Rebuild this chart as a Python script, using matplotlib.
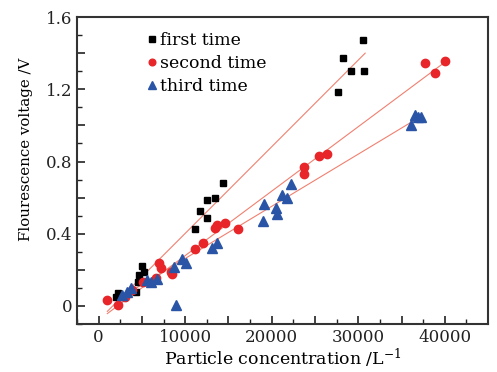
import matplotlib
matplotlib.use("Agg")
import matplotlib.pyplot as plt
import numpy as np
from matplotlib.ticker import MultipleLocator, FuncFormatter

# first time (black squares)
first_x = [30575, 28276, 29195, 30690, 27701, 14368, 13448, 12529, 11724, 12529, 11149,
           5057, 5287, 4713, 4598, 4368, 2184, 2414, 1954]
first_y = [1.472, 1.372, 1.30, 1.30, 1.183, 0.683, 0.60, 0.589, 0.528, 0.489, 0.428,
           0.222, 0.189, 0.172, 0.133, 0.078, 0.072, 0.05, 0.05]

# second time (red circles)
second_x = [37700, 40000, 38900, 25500, 26400, 23700, 23700, 14600, 13700, 13400, 16100,
            11100, 12000, 7020, 7250, 8400, 8500, 6600, 3900, 5100, 920, 2200, 3000]
second_y = [1.344, 1.356, 1.289, 0.833, 0.844, 0.772, 0.733, 0.461, 0.45, 0.433, 0.428,
            0.317, 0.35, 0.239, 0.211, 0.189, 0.178, 0.156, 0.089, 0.133, 0.033, 0.006, 0.05]

# third time (blue triangles)
third_x = [36552, 37241, 36092, 36900, 22184, 21149, 21724, 19080, 20460, 20575, 18965,
           13678, 13103, 10115, 9655, 8736, 6782, 6092, 5632, 3793, 3218, 2644, 8966]
third_y = [1.056, 1.044, 1.0, 1.044, 0.678, 0.617, 0.60, 0.567, 0.544, 0.511, 0.472,
           0.35, 0.322, 0.239, 0.261, 0.217, 0.15, 0.133, 0.144, 0.10, 0.078, 0.061, 0.006]

# fitted lines: (slope, intercept, x_start, x_end)
fit_slopes = [4.8e-5, 3.57e-5, 2.89e-5]
fit_intercepts = [-0.078, -0.078, -0.026]
fit_x_start = [1000, 1000, 2000]
fit_x_end = [30800, 40000, 37200]

plt.rcParams['font.family'] = ['DejaVu Serif']
plt.rcParams['mathtext.fontset'] = 'dejavuserif'

fig = plt.figure(figsize=(4.97, 3.72), dpi=100)
ax = fig.add_axes([0.155, 0.129, 0.827, 0.825])

line_color = '#f08070'
for s, b, x0, x1 in zip(fit_slopes, fit_intercepts, fit_x_start, fit_x_end):
    xs = np.array([x0, x1])
    ax.plot(xs, s * xs + b, color=line_color, lw=0.8, zorder=1)

ax.plot(first_x, first_y, 's', color='black', ms=5, ls='none', label='first time', zorder=3)
ax.plot(second_x, second_y, 'o', color='#e8262a', ms=6, ls='none', label='second time', zorder=3)
ax.plot(third_x, third_y, '^', color='#2a55a6', ms=7, ls='none', label='third time', zorder=3)

ax.set_xlim(-2500, 45000)
ax.set_ylim(-0.1, 1.6)

ax.xaxis.set_major_locator(MultipleLocator(5000))
ax.xaxis.set_minor_locator(MultipleLocator(2500))
ax.xaxis.set_major_formatter(FuncFormatter(lambda v, p: f"{int(round(v))}" if round(v) % 10000 == 0 else ""))
ax.yaxis.set_major_locator(MultipleLocator(0.2))
ax.yaxis.set_minor_locator(MultipleLocator(0.1))
ax.yaxis.set_major_formatter(FuncFormatter(lambda v, p: (f"{v:.1f}" if abs(v) > 1e-9 else "0") if abs(round(v / 0.4) * 0.4 - v) < 1e-6 else ""))

ax.tick_params(which='both', direction='in', top=False, right=False, labelsize=12, colors='#222222')
ax.tick_params(which='major', length=6, width=1.2)
ax.tick_params(which='minor', length=3.5, width=1.0)
for sp in ax.spines.values():
    sp.set_linewidth(1.5)
    sp.set_color('#333333')

ax.set_xlabel('Particle concentration /L$^{-1}$', fontsize=12.5, labelpad=1)
ax.set_ylabel('Flourescence voltage /V', fontsize=10.8)
ax.yaxis.set_label_coords(-0.108, 0.57)

leg = ax.legend(loc='upper left', bbox_to_anchor=(0.135, 0.985), frameon=False, fontsize=12.5,
                handletextpad=0.0, handlelength=1.0, labelspacing=0.33, borderaxespad=0.2,
                markerscale=0.8)

fig.savefig('out.png', dpi=100)
